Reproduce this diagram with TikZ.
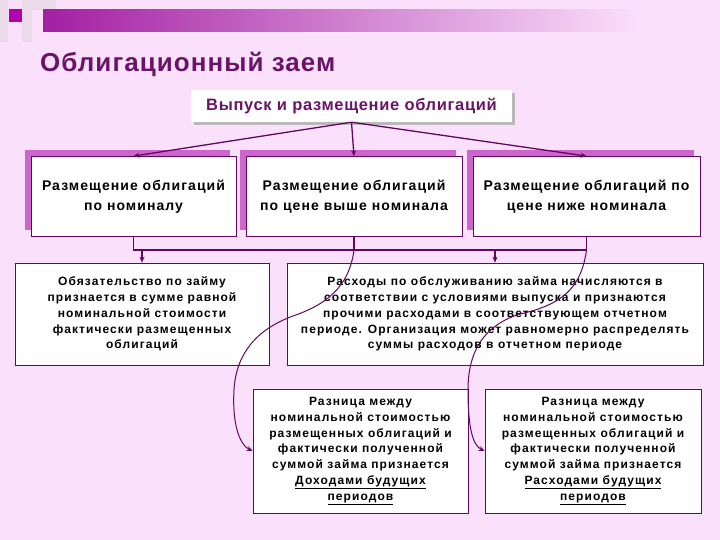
\documentclass[tikz,border=0pt]{standalone}
\usepackage{fontspec}
\setmainfont{Liberation Sans}
\usetikzlibrary{arrows.meta,calc,shadows}
\definecolor{bg}{RGB}{251,224,251}
\definecolor{dpur}{RGB}{96,8,96}
\definecolor{tpur}{RGB}{105,20,105}
\definecolor{orch}{RGB}{204,102,204}
\definecolor{barp}{RGB}{163,31,163}
\definecolor{sqm}{RGB}{176,0,176}
\definecolor{sqg}{RGB}{234,218,234}
\begin{document}
\begin{tikzpicture}[x=1pt,y=-1pt,
  box3/.style={draw=dpur, fill=white, line width=0.8pt, align=center, inner sep=0pt,
    font=\bfseries\fontsize{14}{20.5}\selectfont\addfontfeature{LetterSpace=7.5},
    drop shadow={shadow xshift=-6pt, shadow yshift=6pt, fill=orch, opacity=1}},
  tbox/.style={draw=dpur, fill=white, line width=0.7pt, align=center, inner sep=0pt,
    font=\bfseries\fontsize{12}{15.8}\selectfont\addfontfeature{LetterSpace=9}},
  conn/.style={draw=dpur, line width=1.3pt},
  arr/.style={conn, -{Stealth[length=6pt,width=5pt]}}]
\useasboundingbox (0,0) rectangle (720,540);
\fill[bg] (0,0) rectangle (720,540);
% corner decoration
\fill[sqg] (0,0) rectangle (8,42);
\fill[sqg] (22,0) rectangle (32,42);
\fill[sqg] (32,0) rectangle (56,10);
\fill[sqm] (9,9) rectangle (22,22);
\shade[left color=barp, right color=bg] (43,10) rectangle (640,32);
% title
\node[anchor=west, inner sep=0pt, font=\bfseries\fontsize{26}{30}\selectfont\addfontfeature{LetterSpace=4}, text=tpur] (title) at (40,64)
  {Облигационный заем};
% top box
\node[fill=white, minimum width=321pt, minimum height=32pt, inner sep=0pt,
  font=\bfseries\fontsize{16.5}{18}\selectfont\addfontfeature{LetterSpace=4}, text=tpur,
  drop shadow={shadow xshift=3pt, shadow yshift=-3pt, fill=gray!55, opacity=1}] (top) at (351.5,106) {Выпуск и размещение облигаций};
% three boxes
\node[box3, minimum width=205pt, minimum height=80pt] (b1) at (133.5,196.5) {Размещение облигаций\\по номиналу};
\node[box3, minimum width=216pt, minimum height=80pt] (b2) at (354,196.5) {Размещение облигаций\\по цене выше номинала};
\node[box3, minimum width=227pt, minimum height=80pt] (b3) at (586.5,196.5) {Размещение облигаций по\\цене ниже номинала};
% second row
\node[tbox, minimum width=254pt, minimum height=102pt] (obl) at (142,314) {Обязательство по займу\\признается в сумме равной\\номинальной стоимости\\фактически размещенных\\облигаций};
\node[tbox, minimum width=416pt, minimum height=102pt] (rash) at (495,314) {Расходы по обслуживанию займа начисляются в\\соответствии с условиями выпуска и признаются\\прочими расходами в соответствующем отчетном\\периоде. Организация может равномерно распределять\\суммы расходов в отчетном периоде};
% bottom boxes
\node[tbox, minimum width=215pt, minimum height=124pt] (d1) at (360.5,451) {Разница между\\номинальной стоимостью\\размещенных облигаций и\\фактически полученной\\суммой займа признается\\\underline{Доходами будущих}\\\underline{периодов}};
\node[tbox, minimum width=216pt, minimum height=124pt] (d2) at (593,451) {Разница между\\номинальной стоимостью\\размещенных облигаций и\\фактически полученной\\суммой займа признается\\\underline{Расходами будущих}\\\underline{периодов}};
% connectors from top
\draw[arr] (top.south) -- (b1.north);
\draw[arr] (top.south) -- (b2.north);
\draw[arr] (top.south) -- (b3.north);
% bus
\coordinate (bus) at (0,250);
\draw[conn] (b1.south) -- (b1.south |- bus) -- (b3.south |- bus) -- (b3.south);
\draw[conn] (b2.south) -- (b2.south |- bus);
\draw[arr] (obl.north |- bus) -- (obl.north);
\draw[arr] (rash.north |- bus) -- (rash.north);
% curves
\coordinate (c1) at (b2.south |- bus);
\coordinate (c2) at (b3.south |- bus);
\draw[conn, line width=1pt, -{Stealth[length=6pt,width=5pt]}] (c1) .. controls (349,288) and (325,305) .. (293,316)
  .. controls (255,330) and (236,355) .. (234,390)
  .. controls (232,425) and (240,445) .. (d1.west);
\draw[conn, line width=1pt, -{Stealth[length=6pt,width=5pt]}] (c2) .. controls (581,290) and (560,305) .. (520,314)
  .. controls (485,325) and (468,350) .. (468,390)
  .. controls (468,425) and (472,445) .. (d2.west);
\end{tikzpicture}
\end{document}
